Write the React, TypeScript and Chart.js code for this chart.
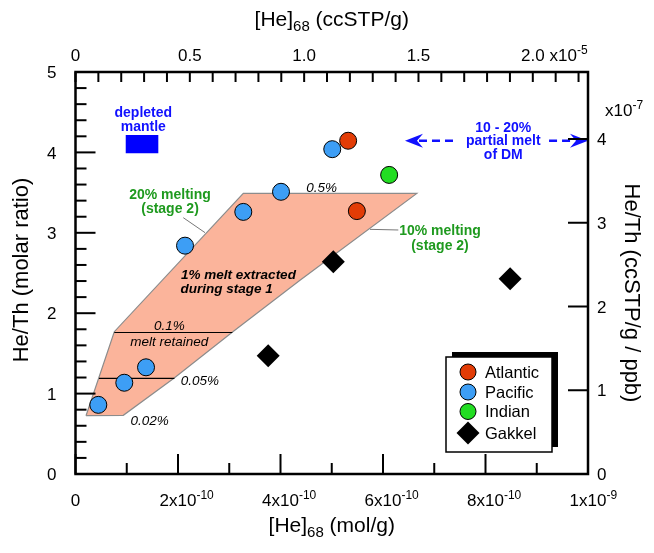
import React, { useEffect, useRef } from 'react';
import { Chart, registerables } from 'chart.js';
Chart.register(...registerables);

// ---- data (x: [He]68 mol/g, y: He/Th molar ratio) ----
const atlantic = [
  { x: 5.32e-10, y: 4.145 },
  { x: 5.49e-10, y: 3.27 },
];
const pacific = [
  { x: 4.45e-11, y: 0.86 },
  { x: 9.52e-11, y: 1.135 },
  { x: 1.376e-10, y: 1.327 },
  { x: 2.137e-10, y: 2.84 },
  { x: 3.274e-10, y: 3.26 },
  { x: 4.01e-10, y: 3.51 },
  { x: 5.01e-10, y: 4.04 },
];
const indian = [{ x: 6.12e-10, y: 3.72 }];
const gakkel = [
  { x: 5.03e-10, y: 2.64 },
  { x: 8.48e-10, y: 2.43 },
  { x: 3.76e-10, y: 1.47 },
];
const meltField = [
  { x: 2.05e-11, y: 0.725 },
  { x: 9.33e-11, y: 0.73 },
  { x: 1.92e-10, y: 1.19 },
  { x: 3.07e-10, y: 1.77 },
  { x: 4.38e-10, y: 2.41 },
  { x: 6.66e-10, y: 3.49 },
  { x: 3.274e-10, y: 3.49 },
  { x: 7.57e-11, y: 1.77 },
];
const depletedMantle = [
  { x: 9.8e-11, y: 4.216 },
  { x: 1.616e-10, y: 4.216 },
  { x: 1.616e-10, y: 3.99 },
  { x: 9.8e-11, y: 3.99 },
];
const line01 = [{ x: 7.57e-11, y: 1.76 }, { x: 3.06e-10, y: 1.76 }];
const line005 = [{ x: 4.59e-11, y: 1.19 }, { x: 1.93e-10, y: 1.19 }];
const leader20 = [{ x: 2.103e-10, y: 3.188 }, { x: 2.527e-10, y: 3.002 }];
const leader10 = [{ x: 5.746e-10, y: 3.043 }, { x: 6.299e-10, y: 3.035 }];
const dmArrow = { y: 4.145, xLeft: 6.429e-10, xLeftEnd: 7.46e-10, xRightStart: 9.24e-10, xRight: 1e-9 };

const bottomTicks = [0, 2e-10, 4e-10, 6e-10, 8e-10, 1e-9];
const bottomTickLabels = ['0', '2x10^{-10}', '4x10^{-10}', '6x10^{-10}', '8x10^{-10}', '1x10^{-9}'];
const topTicks = [0, 0.5e-5, 1.0e-5, 1.5e-5, 2.0e-5];
const topTickLabels = ['0', '0.5', '1.0', '1.5', '2.0'];
const topExponent = 'x10^{-5}';
const leftTicks = [0, 1, 2, 3, 4, 5];
const rightTicks = [0, 1, 2, 3, 4];
const rightExponent = 'x10^{-7}';

const GREEN = '#1f9a1f';
const BLUE = '#1010ff';
const annotations = [
  { t: 'depleted', x: 1.323e-10, y: 4.506, f: 'bold', s: 14, c: BLUE },
  { t: 'mantle', x: 1.323e-10, y: 4.332, f: 'bold', s: 14, c: BLUE },
  { t: '20% melting', x: 1.844e-10, y: 3.479, f: 'bold', s: 14, c: GREEN },
  { t: '(stage 2)', x: 1.844e-10, y: 3.305, f: 'bold', s: 14, c: GREEN },
  { t: '10% melting', x: 7.112e-10, y: 3.035, f: 'bold', s: 14, c: GREEN },
  { t: '(stage 2)', x: 7.112e-10, y: 2.848, f: 'bold', s: 14, c: GREEN },
  { t: '1% melt extracted', x: 3.18e-10, y: 2.484, f: 'italic bold', s: 13.5, c: '#000' },
  { t: 'during stage 1', x: 2.95e-10, y: 2.31, f: 'italic bold', s: 13.5, c: '#000' },
  { t: '0.5%', x: 4.804e-10, y: 3.573, f: 'italic', s: 13.5, c: '#000' },
  { t: '0.1%', x: 1.83e-10, y: 1.853, f: 'italic', s: 13.5, c: '#000' },
  { t: 'melt retained', x: 1.83e-10, y: 1.658, f: 'italic', s: 13.5, c: '#000' },
  { t: '0.05%', x: 2.429e-10, y: 1.169, f: 'italic', s: 13.5, c: '#000' },
  { t: '0.02%', x: 1.448e-10, y: 0.672, f: 'italic', s: 13.5, c: '#000' },
  { t: '10 - 20%', x: 8.347e-10, y: 4.322, f: 'bold', s: 14, c: BLUE },
  { t: 'partial melt', x: 8.347e-10, y: 4.152, f: 'bold', s: 14, c: BLUE },
  { t: 'of DM', x: 8.347e-10, y: 3.985, f: 'bold', s: 14, c: BLUE },
];

const FAM = '"Liberation Sans", Arial, Helvetica, sans-serif';

type Seg = { t: string; k: number; w?: number };
function segs(s: string): Seg[] {
  const out: Seg[] = [];
  const re = /([\^_])\{([^}]*)\}/g;
  let last = 0;
  let m: RegExpExecArray | null;
  while ((m = re.exec(s))) {
    if (m.index > last) out.push({ t: s.slice(last, m.index), k: 0 });
    out.push({ t: m[2], k: m[1] === '^' ? 1 : -1 });
    last = re.lastIndex;
  }
  if (last < s.length) out.push({ t: s.slice(last), k: 0 });
  return out;
}
// align: 'left' | 'center' | 'right' | 'base' (centre the first, full-size part on x)
function drawRich(ctx: CanvasRenderingContext2D, s: string, x: number, yc: number, size: number, align: string, style = '', color = '#000') {
  const parts = segs(s);
  const font = (k: number) => `${style} ${k === 0 ? size : Math.round(size * 0.72)}px ${FAM}`;
  let w = 0;
  for (const p of parts) {
    ctx.font = font(p.k);
    p.w = ctx.measureText(p.t).width;
    w += p.w;
  }
  let cx = align === 'left' ? x : align === 'center' ? x - w / 2 : align === 'base' ? x - (parts[0].w || 0) / 2 : x - w;
  const base = yc + size * 0.36;
  ctx.fillStyle = color;
  ctx.textAlign = 'left';
  ctx.textBaseline = 'alphabetic';
  for (const p of parts) {
    ctx.font = font(p.k);
    const dy = p.k === 1 ? -size * 0.42 : p.k === -1 ? size * 0.28 : 0;
    ctx.fillText(p.t, cx, base + dy);
    cx += p.w || 0;
  }
}

function line(ctx: CanvasRenderingContext2D, x1: number, y1: number, x2: number, y2: number) {
  ctx.beginPath();
  ctx.moveTo(x1, y1);
  ctx.lineTo(x2, y2);
  ctx.stroke();
}

function arrowHead(ctx: CanvasRenderingContext2D, tipX: number, y: number, dir: number) {
  ctx.beginPath();
  ctx.moveTo(tipX, y);
  ctx.lineTo(tipX - dir * 18, y - 7);
  ctx.lineTo(tipX - dir * 12, y);
  ctx.lineTo(tipX - dir * 18, y + 7);
  ctx.closePath();
  ctx.fill();
}

const decorPlugin = {
  id: 'decor',
  afterDatasetsDraw(chart: any) {
    const { ctx, chartArea: a, scales } = chart;
    const x = scales.x, y = scales.y, x2 = scales.x2, y2 = scales.y2;
    ctx.save();

    // annotations text
    for (const an of annotations) {
      drawRich(ctx, an.t, x.getPixelForValue(an.x), y.getPixelForValue(an.y), an.s, 'center', an.f, an.c);
    }

    // dashed arrow
    const ay = y.getPixelForValue(dmArrow.y);
    const xl = x.getPixelForValue(dmArrow.xLeft);
    const xle = x.getPixelForValue(dmArrow.xLeftEnd);
    const xrs = x.getPixelForValue(dmArrow.xRightStart);
    const xr = x.getPixelForValue(dmArrow.xRight);
    ctx.fillStyle = BLUE;
    ctx.strokeStyle = BLUE;
    ctx.lineWidth = 2.5;
    ctx.setLineDash([8, 5]);
    line(ctx, xl + 14, ay, xle, ay);
    line(ctx, xrs, ay, xr - 14, ay);
    ctx.setLineDash([]);
    arrowHead(ctx, xl, ay, -1);
    arrowHead(ctx, xr, ay, 1);

    // legend
    const metas = chart.data.datasets.filter((d: any) => d.inLegend);
    const bx = a.right - 142, by = a.bottom - 117, bw = 106, bh = 95;
    ctx.fillStyle = '#000';
    ctx.fillRect(bx + 6, by - 5, bw, bh);
    ctx.fillStyle = '#fff';
    ctx.fillRect(bx, by, bw, bh);
    ctx.strokeStyle = '#000';
    ctx.lineWidth = 1.5;
    ctx.strokeRect(bx, by, bw, bh);
    const rows = [15, 35, 54.5, 76];
    metas.forEach((d: any, i: number) => {
      const cy = by + rows[i];
      const mx = bx + 22;
      ctx.beginPath();
      if (d.pointStyle === 'rectRot') {
        const r = 11.5;
        ctx.moveTo(mx - r, cy);
        ctx.lineTo(mx, cy - r);
        ctx.lineTo(mx + r, cy);
        ctx.lineTo(mx, cy + r);
        ctx.closePath();
        ctx.fillStyle = d.backgroundColor;
        ctx.fill();
      } else {
        ctx.arc(mx, cy, 8, 0, Math.PI * 2);
        ctx.fillStyle = d.backgroundColor;
        ctx.fill();
        ctx.lineWidth = 1;
        ctx.strokeStyle = '#000';
        ctx.stroke();
      }
      drawRich(ctx, d.label, bx + 39, cy, 16.5, 'left');
    });

    // frame + ticks
    ctx.strokeStyle = '#000';
    ctx.lineWidth = 2;
    for (let i = 0; i <= 25; i++) {
      const py = y.getPixelForValue(i * 0.2);
      line(ctx, a.left, py, a.left + (i % 5 === 0 ? 20 : 11), py);
    }
    for (let i = 0; i <= 10; i++) {
      const px = x.getPixelForValue(i * 1e-10);
      line(ctx, px, a.bottom, px, a.bottom - (i % 2 === 0 ? 20 : 11));
    }
    for (let i = 0; i <= 22; i++) {
      const px = x2.getPixelForValue(i * 0.1e-5);
      if (px <= a.right) line(ctx, px, a.top, px, a.top + 10);
    }
    for (const v of rightTicks) {
      const py = y2.getPixelForValue(v);
      line(ctx, a.right, py, a.right - 20, py);
    }
    ctx.lineWidth = 2.5;
    ctx.strokeRect(a.left, a.top, a.right - a.left, a.bottom - a.top);

    // tick labels
    const TS = 17;
    leftTicks.forEach((v) => drawRich(ctx, String(v), a.left - 19, y.getPixelForValue(v), TS, 'right'));
    rightTicks.forEach((v) => drawRich(ctx, String(v), a.right + 9, y2.getPixelForValue(v), TS, 'left'));
    drawRich(ctx, rightExponent, a.right + 17, y2.getPixelForValue(4) - 29, TS, 'left');
    bottomTicks.forEach((v, i) => drawRich(ctx, bottomTickLabels[i], x.getPixelForValue(v), a.bottom + 26, TS, 'base'));
    topTicks.forEach((v, i) => drawRich(ctx, topTickLabels[i], x2.getPixelForValue(v), a.top - 17, TS, 'center'));
    {
      ctx.font = `${TS}px ${FAM}`;
      const w = ctx.measureText(topTickLabels[topTickLabels.length - 1]).width;
      drawRich(ctx, topExponent, x2.getPixelForValue(topTicks[topTicks.length - 1]) + w / 2 + 5, a.top - 17, TS, 'left');
    }

    // axis titles
    const mid = (a.left + a.right) / 2;
    drawRich(ctx, '[He]_{68} (mol/g)', mid, a.bottom + 50, 21, 'center');
    drawRich(ctx, '[He]_{68} (ccSTP/g)', mid, 18, 21, 'center');
    ctx.save();
    ctx.translate(20, 270);
    ctx.rotate(-Math.PI / 2);
    drawRich(ctx, 'He/Th (molar ratio)', 0, 0, 22, 'center');
    ctx.restore();
    ctx.save();
    ctx.translate(633, 293);
    ctx.rotate(Math.PI / 2);
    drawRich(ctx, 'He/Th (ccSTP/g / ppb)', 0, 0, 22, 'center');
    ctx.restore();

    ctx.restore();
  },
};

function closed(pts: { x: number; y: number }[]) {
  return [...pts, pts[0]];
}

export default function App() {
  const ref = useRef<HTMLCanvasElement>(null);
  useEffect(() => {
    if (!ref.current) return;
    const lineDs = (data: any[], color: string, width: number, extra: any = {}) => ({
      type: 'line',
      data,
      borderColor: color,
      borderWidth: width,
      pointRadius: 0,
      fill: false,
      tension: 0,
      order: 8,
      ...extra,
    });
    const pt = (label: string, data: any[], color: string) => ({
      type: 'scatter',
      label,
      data,
      backgroundColor: color,
      borderColor: '#000',
      borderWidth: 1,
      pointRadius: 8.5,
      pointStyle: 'circle',
      order: 0,
      inLegend: true,
    });
    const chart = new Chart(ref.current, {
      type: 'scatter',
      data: {
        datasets: [
          lineDs(closed(meltField), '#8c8c8c', 1.2, { fill: 'shape', backgroundColor: '#fbb49b', order: 10 }),
          lineDs(closed(depletedMantle), '#0000ff', 0, { fill: 'shape', backgroundColor: '#0000ff', order: 9 }),
          lineDs(line01, '#000', 1.2),
          lineDs(line005, '#000', 1.2),
          lineDs(leader20, '#777', 1),
          lineDs(leader10, '#777', 1),
          pt('Atlantic', atlantic, '#e23c06'),
          pt('Pacific', pacific, '#3d9ef5'),
          pt('Indian', indian, '#22dd22'),
          {
            type: 'scatter',
            label: 'Gakkel',
            data: gakkel,
            backgroundColor: '#000',
            borderColor: '#000',
            borderWidth: 0,
            pointRadius: 11.5,
            pointStyle: 'rectRot',
            order: 0,
            inLegend: true,
          },
        ] as any,
      },
      options: {
        animation: false,
        responsive: true,
        maintainAspectRatio: false,
        layout: { padding: { left: 75.5, top: 72, right: 66, bottom: 79 } },
        plugins: { legend: { display: false }, tooltip: { enabled: false } },
        scales: {
          x: { type: 'linear', min: 0, max: 1e-9, display: false },
          y: { type: 'linear', min: 0, max: 5, display: false },
          x2: { type: 'linear', position: 'top', min: 0, max: 2.2414e-5, display: false },
          y2: { type: 'linear', position: 'right', min: 0, max: 4.8, display: false },
        },
      } as any,
      plugins: [decorPlugin],
    });
    return () => chart.destroy();
  }, []);
  return (
    <div style={{ position: 'absolute', left: 0, top: 0, width: 654, height: 553, background: '#fff' }}>
      <canvas ref={ref} />
    </div>
  );
}
